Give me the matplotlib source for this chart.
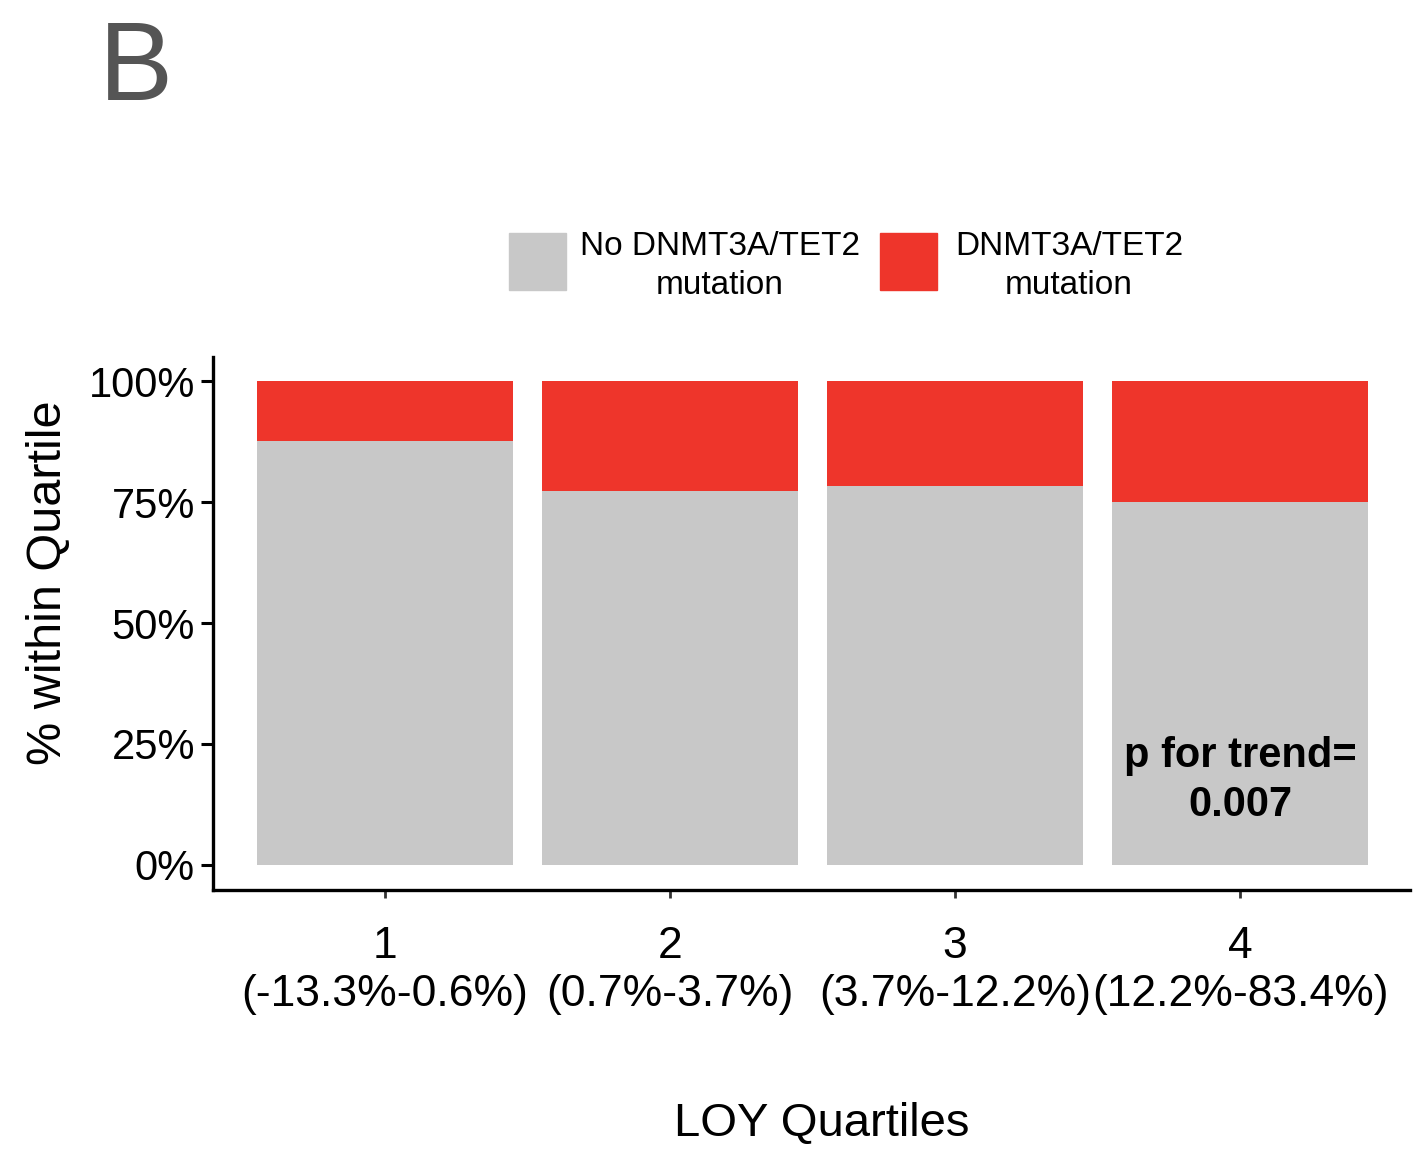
import matplotlib.pyplot as plt
from matplotlib.patches import Rectangle
from matplotlib.ticker import PercentFormatter

plt.rcParams['font.family'] = ['Liberation Sans', 'DejaVu Sans']

quartiles = [1, 2, 3, 4]
tick_labels = ['1\n(-13.3%-0.6%)', '2\n(0.7%-3.7%)', '3\n(3.7%-12.2%)', '4\n(12.2%-83.4%)']
no_mut = [0.876, 0.773, 0.783, 0.750]
mut = [1 - v for v in no_mut]
series_names = ['No DNMT3A/TET2\nmutation', 'DNMT3A/TET2\nmutation']
colors = ['#c8c8c8', '#ee352b']

W, H = 1427, 1158
fig = plt.figure(figsize=(W / 100, H / 100), dpi=100)
ax = fig.add_axes([0.1493, 0.2314, 0.8387, 0.4603])

ax.bar(quartiles, no_mut, width=0.9, color=colors[0])
ax.bar(quartiles, mut, bottom=no_mut, width=0.9, color=colors[1])

ax.set_xlim(0.396, 4.596)
ax.set_ylim(-0.052, 1.05)
ax.set_yticks([0, 0.25, 0.5, 0.75, 1.0])
ax.yaxis.set_major_formatter(PercentFormatter(1.0, decimals=0))
ax.set_xticks(quartiles)
ax.set_xticklabels(tick_labels, fontsize=32, linespacing=1.2)
ax.tick_params(axis='y', labelsize=30, length=9, width=2.2, pad=4)
ax.tick_params(axis='x', length=6, width=2, color='#333333', pad=20)

for s in ['top', 'right']:
    ax.spines[s].set_visible(False)
for s in ['left', 'bottom']:
    ax.spines[s].set_linewidth(2.4)

# axis titles
fig.text(48 / W, 1 - 583 / H, '% within Quartile', fontsize=35, rotation=90,
         ha='center', va='center')
fig.text(822 / W, 1 - 1124 / H, 'LOY Quartiles', fontsize=34,
         ha='center', va='center')

ax.text(4, 0.174, 'p for trend=\n0.007', ha='center', va='center',
        fontsize=30, fontweight='bold', linespacing=1.3)

# legend above the plot
leg_boxes = [(509, 233), (880, 233)]
leg_text_x = [720, 1069]
for (bx, by), tx, name, c in zip(leg_boxes, leg_text_x, series_names, colors):
    fig.patches.append(Rectangle((bx / W, 1 - (by + 57) / H), 57 / W, 57 / H,
                                 transform=fig.transFigure, color=c))
    fig.text(tx / W, 1 - 266 / H, name, fontsize=24, ha='center', va='center',
             multialignment='center', linespacing=1.3)

fig.text(0.069, 1 - 100 / H, 'B', fontsize=80, color='#555555',
         va='baseline', ha='left')

fig.savefig('out.png', dpi=100)
